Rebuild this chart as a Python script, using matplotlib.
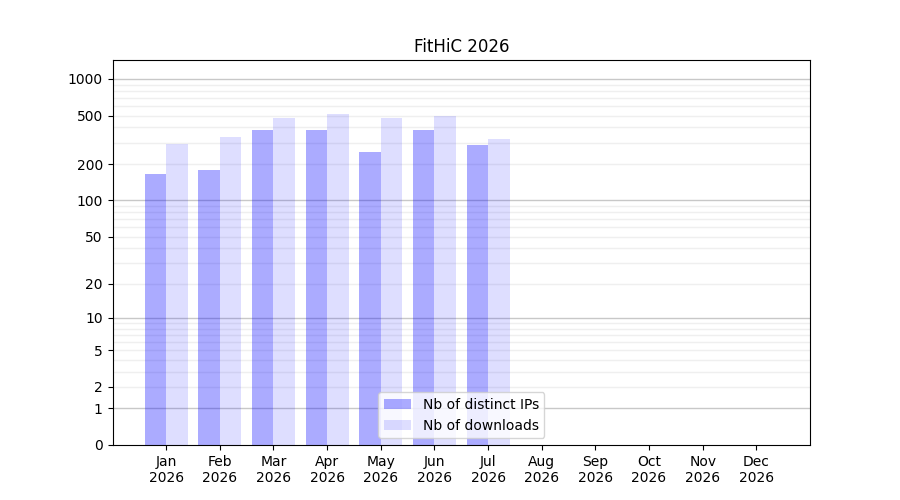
import numpy as np
import matplotlib
matplotlib.use('Agg')
import matplotlib.pyplot as plt

months = ['Jan', 'Feb', 'Mar', 'Apr', 'May', 'Jun',
          'Jul', 'Aug', 'Sep', 'Oct', 'Nov', 'Dec']
year = 2026
distinct_ips = [165, 179, 381, 381, 251, 381, 287]
downloads = [293, 334, 478, 516, 478, 497, 321]


def fwd(y):
    return np.log10(np.asarray(y, dtype=float) + 1)


def inv(y):
    return 10 ** np.asarray(y, dtype=float) - 1


fig, ax = plt.subplots(figsize=(9, 5), dpi=100)
ax.set_yscale('function', functions=(fwd, inv))

x = np.arange(1, len(distinct_ips) + 1)
ax.bar(x - 0.2, distinct_ips, width=0.4, color='blue', alpha=0.33,
       label='Nb of distinct IPs', zorder=2)
ax.bar(x + 0.2, downloads, width=0.4, color='blue', alpha=0.13,
       label='Nb of downloads', zorder=2)

# grid: decades darker, 2..9 lighter
for dec in [1, 10, 100, 1000]:
    ax.axhline(dec, color='#c8c8c8', lw=1, zorder=1)
    if dec < 1000:
        for k in range(2, 10):
            ax.axhline(dec * k, color='#efefef', lw=1, zorder=1)

ax.set_yticks([0, 1, 2, 5, 10, 20, 50, 100, 200, 500, 1000])
ax.set_yticklabels(['0', '1', '2', '5', '10', '20', '50', '100', '200', '500', '1000'])
ax.minorticks_off()
ax.set_ylim(0, 1430)

ax.set_xticks(np.arange(1, 13))
ax.set_xticklabels([f'{m}\n{year}' for m in months])
ax.set_xlim(0, 13)

ax.set_title(f'FitHiC {year}')
ax.legend(loc='lower center')

fig.savefig('out.png')
